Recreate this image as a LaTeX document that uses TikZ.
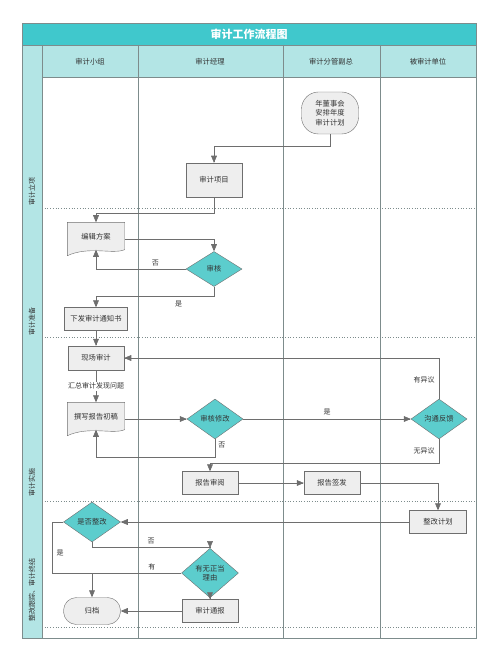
\documentclass[tikz,border=0pt]{standalone}
\usepackage{fontspec}
\setmainfont{Noto Sans CJK SC}
\usetikzlibrary{shapes,arrows,backgrounds}

\definecolor{titlec}{HTML}{40C8CC}
\definecolor{headc}{HTML}{B3E5E5}
\definecolor{diac}{HTML}{5CCDCD}
\definecolor{boxc}{HTML}{EEEEEE}
\definecolor{linec}{HTML}{6E6E6E}
\definecolor{framec}{HTML}{7D8C8C}
\definecolor{txtc}{HTML}{333333}

\begin{document}
\begin{tikzpicture}[%
    >=triangle 45,          % small solid heads
    x=1pt, y=-1pt,          % work in picture pixels, top-down
    every node/.style={text=txtc},
    ]
\useasboundingbox (0,0) rectangle (500,660);
% -------------------------------------------------
% Styles for boxes and connectors
\tikzset{
  base/.style={draw=linec, fill=boxc, align=center, inner sep=1pt,
    font=\fontsize{7.3}{9.5}\selectfont},
  proc/.style={base, rectangle, minimum width=56, minimum height=23},
  test/.style={base, diamond, fill=diac, minimum width=56, minimum height=35},
  term/.style={base, rectangle, rounded corners=13pt, minimum width=57, minimum height=27},
  docu/.style={base, draw=none, fill=none, minimum width=57, minimum height=33,
    text depth=6pt},
  docline/.style={draw=linec, fill=boxc},
  norm/.style={->, draw=linec, line width=0.6pt},
  plain/.style={draw=linec, line width=0.6pt},
  lab/.style={font=\fontsize{7}{8.5}\selectfont, inner sep=1pt},
  phase/.style={font=\fontsize{7}{8.5}\selectfont, rotate=90},
  lane/.style={draw=framec, line width=0.6pt},
  sep/.style={draw=framec, dotted, line width=0.7pt}
}
% -------------------------------------------------
% Swimlane frame
\fill[titlec] (22,23) rectangle (476,45);
\fill[headc] (22,45) rectangle (476,77);
\fill[headc] (22,77) rectangle (42,638);
\node[font=\fontsize{11}{12}\bfseries, text=white] (title) at (249,34) {审计工作流程图};
\node[lab, font=\fontsize{7.3}{9}\selectfont] (h1) at (90,62) {审计小组};
\node[lab, font=\fontsize{7.3}{9}\selectfont] (h2) at (210,62) {审计经理};
\node[lab, font=\fontsize{7.3}{9}\selectfont] (h3) at (331,62) {审计分管副总};
\node[lab, font=\fontsize{7.3}{9}\selectfont] (h4) at (428,62) {被审计单位};
\draw[lane] (22,23) rectangle (476,638);
\draw[lane] (22,45) -- (476,45);
\draw[lane] (42,77) -- (476,77);
\foreach \x in {42,138,283,380}
  \draw[lane] (\x,45) -- (\x,638);
\foreach \y in {208,337,501,627}
  \draw[sep] (42,\y) -- (476,\y);
% phase names in the left strip
\node[phase] (ph1) at (32,192) {审计立项};
\node[phase] (ph2) at (32,321) {审计准备};
\node[phase] (ph3) at (32,482) {审计实施};
\node[phase] (ph4) at (32,590) {整改跟踪、审计终结};
% -------------------------------------------------
% Start by placing the nodes
\node[term, rounded corners=17pt, minimum height=42] (plan) at (330,113) {年董事会\\安排年度\\审计计划};
\node[proc, minimum height=34] (xiangmu) at (214,180) {审计项目};
\node[docu] (fangan) at (96,239) {编辑方案};
\node[test] (shenhe) at (214,269) {审核};
\node[proc, minimum width=63] (tongzhi) at (96,319) {下发审计通知书};
\node[proc, minimum height=24] (xianchang) at (96,358) {现场审计};
\node[docu] (chugao) at (96,419) {撰写报告初稿};
\node[test] (xiugai) at (215,419) {审核修改};
\node[test] (fankui) at (439,419) {沟通反馈};
\node[proc] (shenyue) at (210,483) {报告审阅};
\node[proc] (qianfa) at (332,483) {报告签发};
\node[proc, minimum width=57] (jihua) at (438,522) {整改计划};
\node[test, minimum width=57, minimum height=34] (zhenggai) at (92,522) {是否整改};
\node[test, minimum width=57, minimum height=40] (liyou) at (210,573) {有无正当\\理由};
\node[proc] (tongbao) at (210,611) {审计通报};
\node[term] (guidang) at (92,611) {归档};

% document outlines go behind their text
\begin{pgfonlayer}{background}
\foreach \n in {fangan,chugao}
  \path[docline] (\n.north west) -- (\n.north east) -- ([yshift=6pt]\n.south east)
    .. controls +(-12pt,-5pt) and +(22pt,10pt) .. (\n.south west) -- cycle;
\end{pgfonlayer}

% -------------------------------------------------
% Connectors
\draw[norm] (plan.south) -- ++(0,12) -| (xiangmu.north);
\draw[norm] (xiangmu.south) -- ++(0,16) -| (fangan.north);
\draw[norm] (fangan.east) -| (shenhe.north);
\draw[norm] (shenhe.west) -| node[lab, pos=0.17, above=2pt] {否} ([yshift=6pt]fangan.south);
\draw[norm] (shenhe.south) -- ++(0,10) -| node[lab, pos=0.15, below=3pt] {是} (tongzhi.north);
\draw[norm] (tongzhi) -- (xianchang);
\draw[norm] (xianchang) -- node[lab, fill=white] {汇总审计发现问题} (chugao);
\draw[norm] (chugao.east) -- (xiugai);
\draw[norm] (xiugai) -- node[lab, above=3pt] {是} (fankui);
\draw[norm] (fankui.north) |- node[lab, pos=0.23, left=3pt] {有异议} (xianchang.east);
\draw[norm] (xiugai.south) -- node[lab, pos=0.35, right=2pt] {否} ++(0,18)
  -| ([yshift=6pt]chugao.south);
\draw[norm] (fankui.south) -- node[lab, left=3pt] {无异议} ++(0,24) -| (shenyue.north);
\draw[norm] (shenyue) -- (qianfa);
\draw[norm] (qianfa.east) -| (jihua.north);
\draw[norm] (jihua) -- (zhenggai);
\draw[norm] (zhenggai.south) -- ++(0,5) -| node[lab, pos=0.25, above=2pt] {否} (liyou.north);
\coordinate (merge) at (zhenggai.south |- liyou.west);
\draw[plain] (zhenggai.west) -- ++(-11,0) |- node[lab, pos=0.3, right=3pt] {是} (merge);
\draw[plain] (liyou.west) -- node[lab, pos=0.33, above=2pt] {有} (merge);
\draw[norm] (merge) -- (guidang.north);
\draw[norm] (liyou) -- (tongbao);
\draw[norm] (tongbao) -- (guidang);
% -------------------------------------------------
\end{tikzpicture}
\end{document}
